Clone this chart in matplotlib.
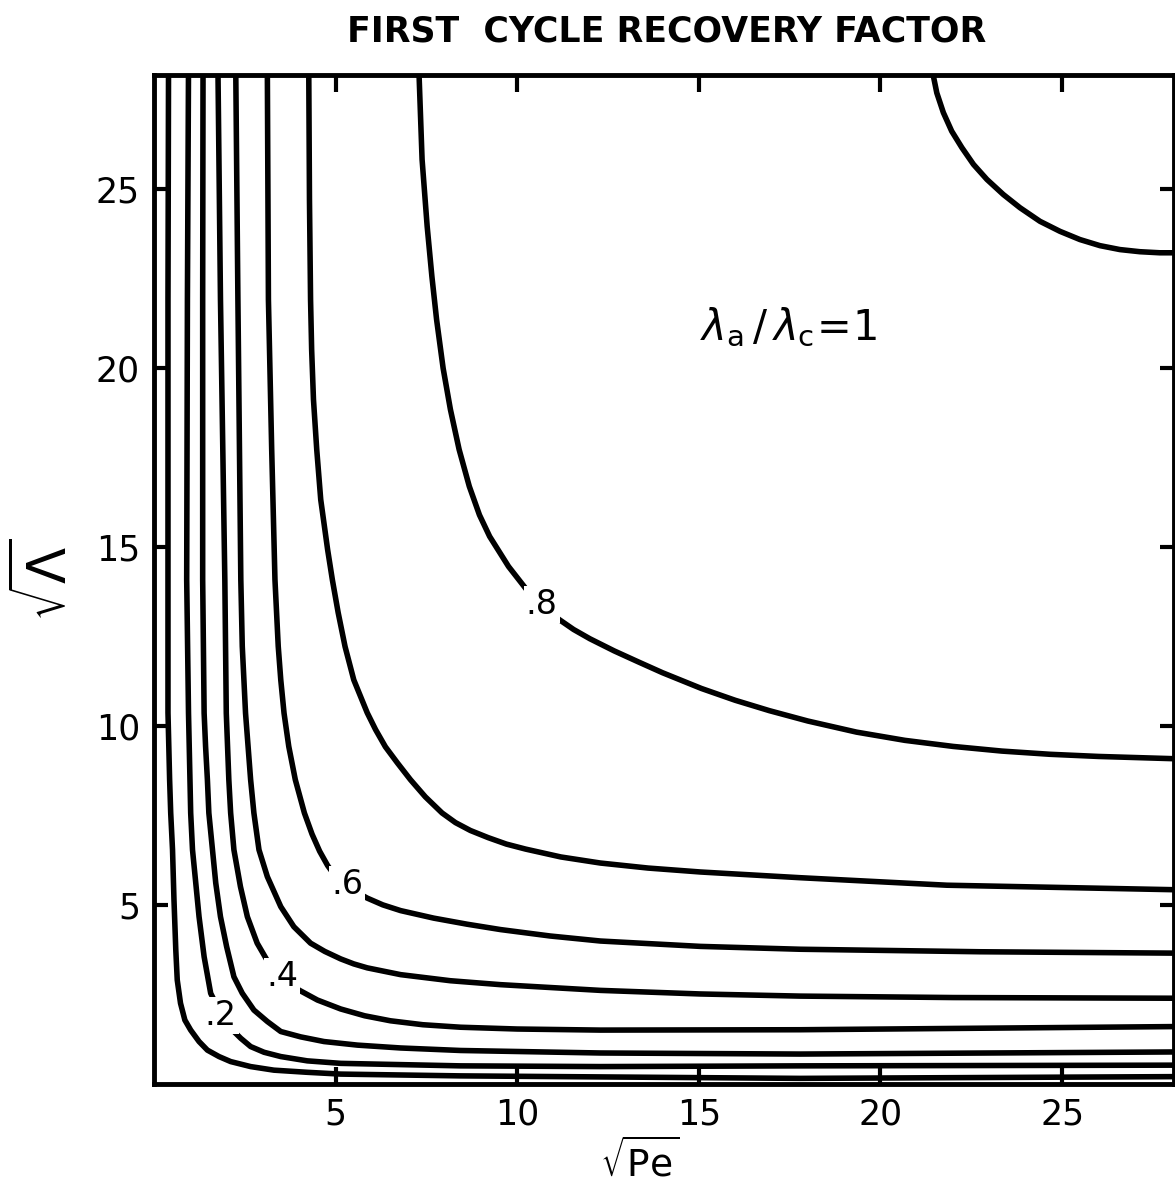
import matplotlib
matplotlib.use("Agg")
import matplotlib.pyplot as plt

plt.rcParams['font.family'] = ['DejaVu Sans']
plt.rcParams['mathtext.fontset'] = 'dejavusans'

# ---- data (x = sqrt(Pe), y = sqrt(Lambda)) ----
levels = [0.1, 0.2, 0.3, 0.4, 0.5, 0.6, 0.7, 0.8, 0.9]

c1_x = [0.40, 0.385, 0.385, 0.385, 0.43, 0.46, 0.51, 0.55, 0.60, 0.64, 0.73, 0.85, 1.01, 1.24, 1.47,
        1.79, 2.11, 2.66, 3.30, 4.22, 5.14, 8.44, 17.79, 28.3]
c1_y = [28.4, 21.92, 14.09, 10.37, 8.50, 7.57, 6.54, 5.14, 3.74, 2.90, 2.25, 1.78, 1.50, 1.18, 0.94,
        0.76, 0.62, 0.48, 0.38, 0.32, 0.27, 0.22, 0.15, 0.20]

c2_x = [0.95, 0.92, 0.90, 0.95, 0.99, 1.01, 1.06, 1.15, 1.24, 1.38, 1.56, 1.83, 2.11, 2.39, 2.66,
        3.03, 3.49, 4.22, 5.14, 8.44, 12.29, 17.79, 28.3]
c2_y = [28.4, 21.92, 14.09, 10.36, 8.50, 7.57, 6.54, 5.61, 4.67, 3.55, 2.53, 1.98, 1.55, 1.27, 1.04,
        0.88, 0.76, 0.64, 0.57, 0.50, 0.48, 0.50, 0.52]

c3_x = [1.35, 1.34, 1.34, 1.38, 1.42, 1.47, 1.51, 1.61, 1.70, 1.83, 2.00, 2.20, 2.43, 2.75, 3.12,
        3.49, 4.04, 4.68, 5.60, 6.79, 8.44, 12.29, 17.79, 28.3]
c3_y = [28.4, 21.92, 14.09, 10.36, 9.43, 8.50, 7.57, 6.54, 5.61, 4.67, 3.83, 2.99, 2.53, 2.06, 1.74,
        1.46, 1.31, 1.18, 1.08, 1.00, 0.93, 0.86, 0.83, 0.89]

c4_x = [1.76, 1.83, 1.95, 1.99, 2.06, 2.11, 2.20, 2.38, 2.57, 2.84, 3.16, 3.54, 3.99, 4.50, 5.14,
        5.80, 6.51, 7.40, 8.44, 10.00, 12.29, 17.79, 28.3]
c4_y = [28.4, 21.92, 14.09, 10.36, 8.50, 7.57, 6.54, 5.51, 4.67, 3.93, 3.37, 2.99, 2.62, 2.34, 2.09,
        1.90, 1.76, 1.65, 1.58, 1.53, 1.50, 1.51, 1.60]

c5_x = [2.25, 2.31, 2.39, 2.43, 2.52, 2.59, 2.66, 2.75, 2.89, 3.12, 3.49, 3.85, 4.31, 4.70, 5.14,
        5.50, 5.87, 6.79, 8.16, 9.54, 12.29, 15.04, 17.79, 22.00, 28.3]
c5_y = [28.4, 21.92, 14.09, 12.23, 10.36, 9.43, 8.50, 7.57, 6.54, 5.79, 4.95, 4.39, 3.93, 3.70, 3.49,
        3.35, 3.24, 3.05, 2.88, 2.77, 2.61, 2.51, 2.45, 2.41, 2.39]

c6_x = [3.12, 3.15, 3.24, 3.33, 3.42, 3.49, 3.58, 3.71, 3.89, 4.14, 4.35, 4.56, 4.78, 5.03, 5.40,
        5.87, 6.30, 6.79, 7.70, 8.62, 9.54, 10.91, 12.29, 15.04, 17.79, 22.74, 28.3]
c6_y = [28.4, 21.92, 17.73, 14.09, 12.23, 11.29, 10.36, 9.43, 8.50, 7.57, 6.98, 6.50, 6.10, 5.75, 5.45,
        5.19, 5.00, 4.84, 4.63, 4.46, 4.31, 4.13, 3.99, 3.84, 3.76, 3.69, 3.65]

c7_x = [4.26, 4.28, 4.31, 4.34, 4.39, 4.48, 4.59, 4.78, 4.91, 5.07, 5.26, 5.50, 5.87, 6.10, 6.37,
        6.70, 7.06, 7.47, 7.93, 8.30, 8.71, 9.20, 9.70, 10.23, 11.20, 12.29, 13.60, 15.04, 17.79,
        21.83, 28.3]
c7_y = [28.4, 24.72, 21.92, 20.52, 19.13, 17.73, 16.33, 14.93, 14.09, 13.17, 12.22, 11.29, 10.37, 9.90, 9.42,
        8.97, 8.50, 8.02, 7.57, 7.30, 7.08, 6.88, 6.70, 6.56, 6.34, 6.17, 6.03, 5.92, 5.76,
        5.55, 5.42]

c8_x = [7.29, 7.38, 7.52, 7.65, 7.78, 7.96, 8.16, 8.40, 8.68, 8.96, 9.24, 9.76, 10.26, 10.68, 11.15,
        11.55, 12.00, 12.67, 13.34, 14.00, 15.07, 16.00, 16.94, 18.00, 19.34, 20.67, 22.00, 23.34,
        24.67, 26.00, 28.3]
c8_y = [28.4, 25.84, 23.97, 22.57, 21.36, 20.00, 18.85, 17.73, 16.70, 15.90, 15.30, 14.46, 13.81, 13.36, 12.98,
        12.70, 12.44, 12.10, 11.79, 11.49, 11.05, 10.72, 10.43, 10.14, 9.83, 9.60, 9.43, 9.30,
        9.21, 9.15, 9.08]

c9_x = [21.41, 21.55, 21.73, 21.96, 22.24, 22.56, 22.93, 23.38, 23.84, 24.39, 24.94, 25.49, 26.04,
        26.59, 27.14, 27.69, 28.3]
c9_y = [28.4, 27.70, 27.15, 26.63, 26.17, 25.70, 25.28, 24.86, 24.49, 24.11, 23.83, 23.60, 23.43,
        23.32, 23.26, 23.23, 23.23]

curves_x = [c1_x, c2_x, c3_x, c4_x, c5_x, c6_x, c7_x, c8_x, c9_x]
curves_y = [c1_y, c2_y, c3_y, c4_y, c5_y, c6_y, c7_y, c8_y, c9_y]

label_text = ['.2', '.4', '.6', '.8']
label_x = [1.83, 3.53, 5.32, 10.67]
label_y = [1.92, 2.99, 5.56, 13.39]

ticks = [5, 10, 15, 20, 25]
tick_labels = ['5', '10', '15', '20', '25']

title = 'FIRST  CYCLE RECOVERY FACTOR'
ratio_text = r'$\lambda_{\mathrm{a}}\,/\,\lambda_{\mathrm{c}}\!=\!1$'

# ---- figure ----
W, H = 1175, 1195
fig = plt.figure(figsize=(W / 100, H / 100), dpi=100)
ax = fig.add_axes([154 / W, 1 - 1083.75 / H, (1174 - 154) / W, (1083.75 - 75) / H])

for xs, ys in zip(curves_x, curves_y):
    ax.plot(xs, ys, color='black', lw=4.0, solid_capstyle='butt', solid_joinstyle='round')

for t, x, y in zip(label_text, label_x, label_y):
    ax.text(x, y, t, fontsize=24, ha='center', va='center', color='black',
            bbox=dict(facecolor='white', edgecolor='none', pad=1.5), zorder=5)

ax.set_xlim(0, 28.08)
ax.set_ylim(0, 28.2)
ax.set_xticks(ticks)
ax.set_xticklabels(tick_labels)
ax.set_yticks(ticks)
ax.set_yticklabels(tick_labels)
ax.tick_params(axis='x', direction='in', length=12, width=3, top=True, bottom=True,
               labelsize=25, pad=10)
ax.tick_params(axis='y', direction='in', length=10, width=3, left=True, right=True,
               labelsize=25, pad=10)
for s in ax.spines.values():
    s.set_linewidth(3.5)

fig.text(667 / W, 1 - 31 / H, title, fontsize=25, fontweight='bold', ha='center', va='center')
fig.text(789 / W, 1 - 328 / H, ratio_text, fontsize=30, ha='center', va='center')
fig.text(640 / W, 1 - 1162 / H, r'$\sqrt{\mathrm{Pe}}$', fontsize=27, ha='center', va='center')
fig.text(46 / W, 1 - 580 / H, r'$\sqrt{\Lambda}$', fontsize=38, ha='center', va='center',
         rotation=90)

fig.savefig('out.png', dpi=100)
